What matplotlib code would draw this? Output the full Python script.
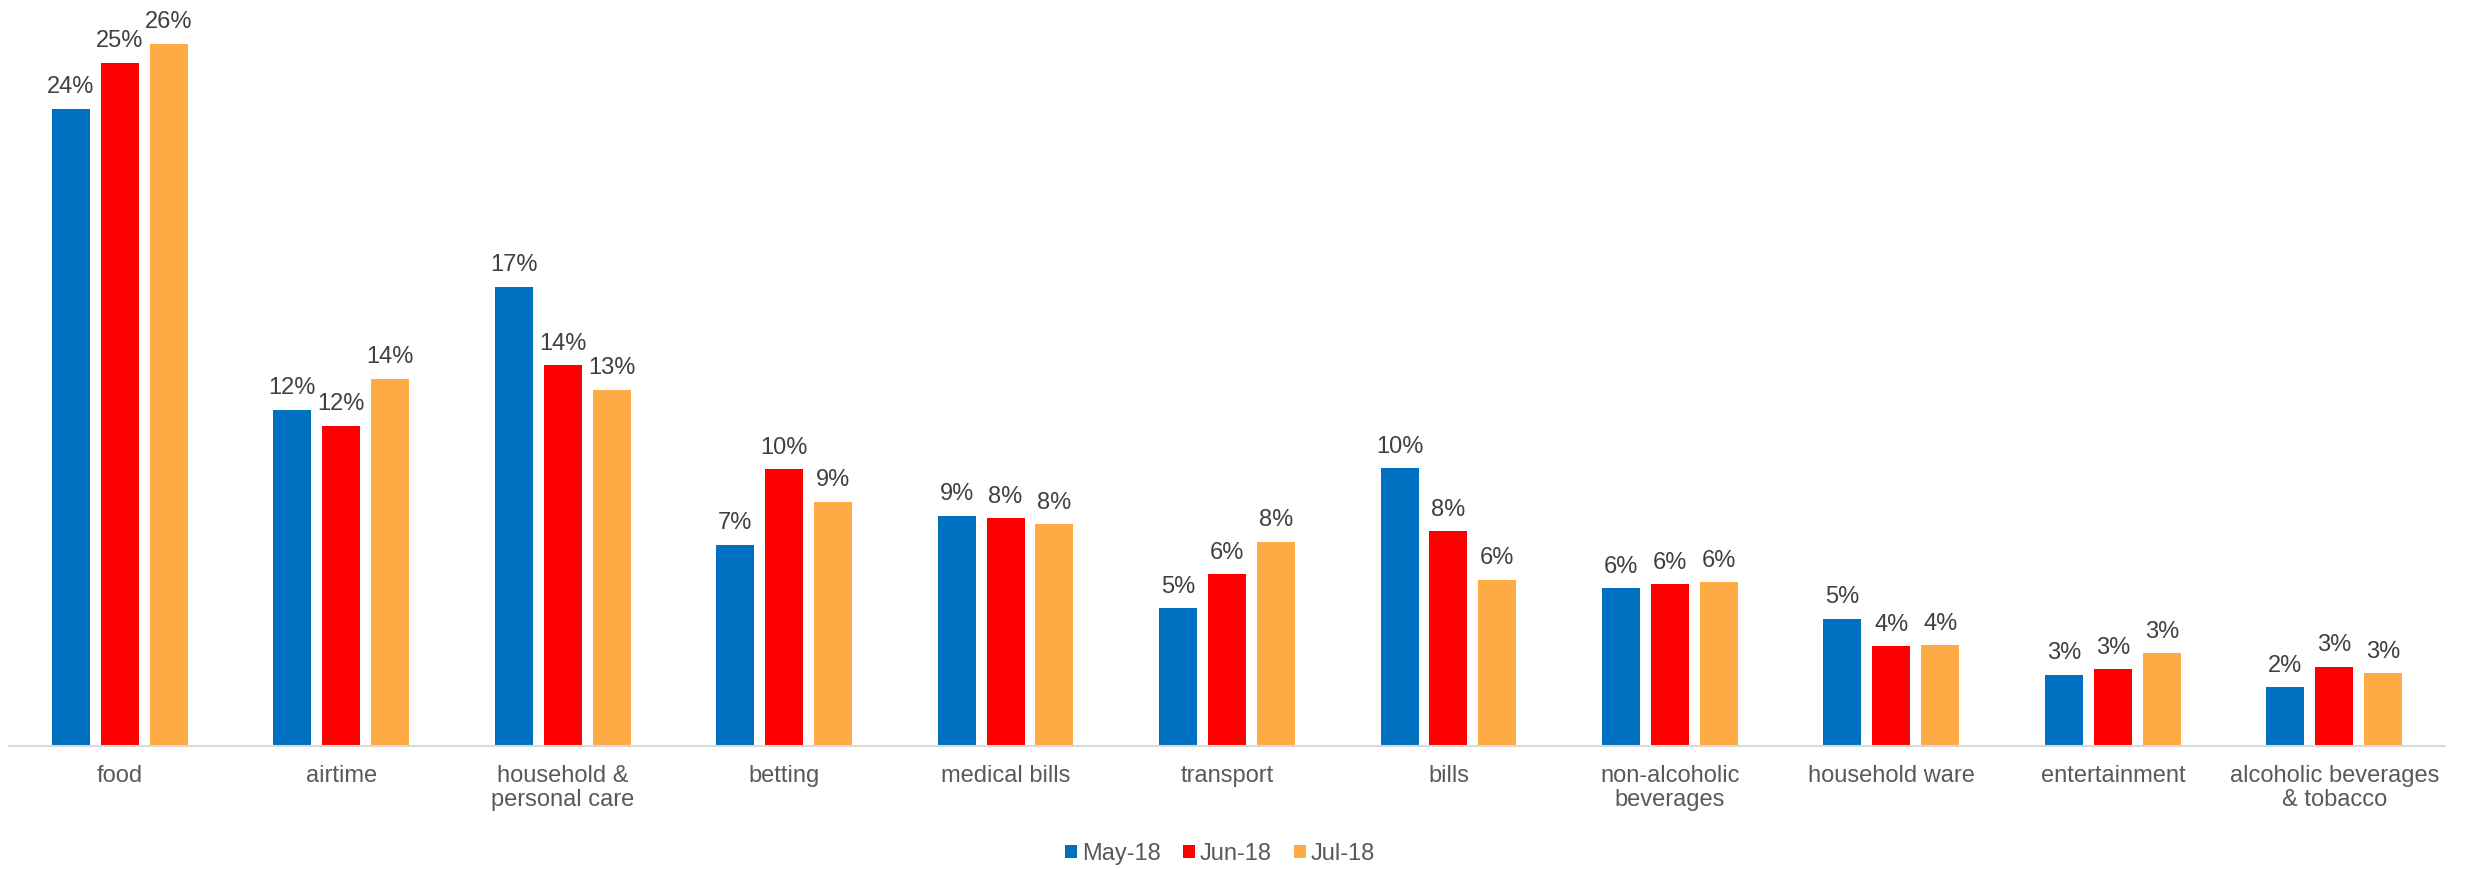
import matplotlib
matplotlib.use("Agg")
import matplotlib.pyplot as plt
import numpy as np

categories = ["food", "airtime", "household &\npersonal care", "betting", "medical bills",
              "transport", "bills", "non-alcoholic\nbeverages", "household ware",
              "entertainment", "alcoholic beverages\n& tobacco"]
may18 = [23.6, 12.46, 17.0, 7.46, 8.52, 5.1, 10.28, 5.84, 4.72, 2.64, 2.17]
jun18 = [25.3, 11.85, 14.1, 10.25, 8.44, 6.36, 7.96, 5.99, 3.7, 2.84, 2.94]
jul18 = [26.0, 13.6, 13.2, 9.05, 8.21, 7.56, 6.15, 6.06, 3.73, 3.44, 2.69]
series_names = ["May-18", "Jun-18", "Jul-18"]
colors = ["#0070C0", "#FF0000", "#FFAB45"]

plt.rcParams['font.family'] = ['Liberation Sans', 'DejaVu Sans']

W, H = 2471, 869
fig = plt.figure(figsize=(W / 100, H / 100), dpi=100)
ax_left, ax_right = 9, 2445
ax_bottom, ax_top = 746, 20
ax = fig.add_axes([ax_left / W, 1 - ax_bottom / H, (ax_right - ax_left) / W, (ax_bottom - ax_top) / H])

x = np.arange(len(categories))
bw = 0.1716
step = 0.221
for i, (vals, name, c) in enumerate(zip([may18, jun18, jul18], series_names, colors)):
    pos = x + (i - 1) * step
    bars = ax.bar(pos, vals, width=bw, color=c, label=name, linewidth=0)
    for xp, v in zip(pos, vals):
        ax.annotate(f"{int(np.floor(v + 0.5))}%", (xp, v), xytext=(0, 11.2), textcoords="offset points",
                    ha="center", va="baseline", fontsize=17, color="#404040", annotation_clip=False)

ax.set_xlim(-0.5, len(categories) - 0.5)
ax.set_ylim(0, (ax_bottom - ax_top) / 27.0)
ax.set_xticks(x)
ax.set_xticklabels(categories, fontsize=17, color="#595959", linespacing=1.1)
ax.tick_params(axis="x", length=0, pad=14)
ax.set_yticks([])
for s in ["top", "right", "left"]:
    ax.spines[s].set_visible(False)
ax.spines["bottom"].set_color("#D9D9D9")
ax.spines["bottom"].set_linewidth(1.5)

fig.legend(loc="center", bbox_to_anchor=(1220 / W, 1 - 854 / H), ncol=3, frameon=False,
           fontsize=17, handlelength=0.5, handleheight=0.5, handletextpad=0.2,
           columnspacing=0.95, labelcolor="#595959")

fig.savefig("out.png", dpi=100, facecolor="white")
